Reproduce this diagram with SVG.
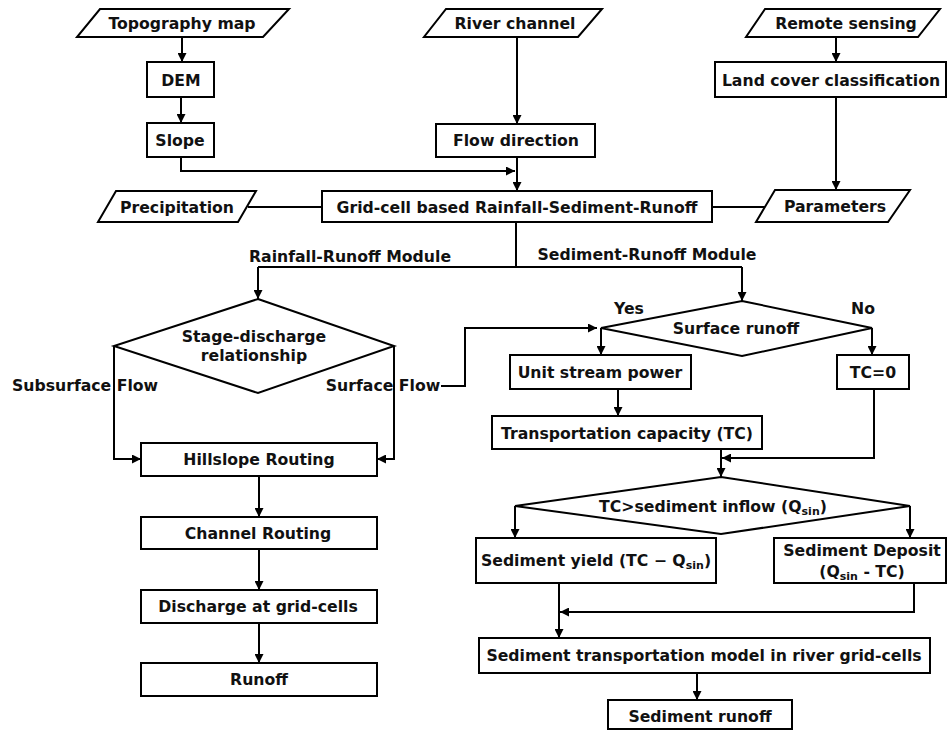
<svg xmlns="http://www.w3.org/2000/svg" width="948" height="730" viewBox="0 0 948 730">
<style>
.b{fill:#fff;stroke:#000;stroke-width:2}
.t{font-family:"DejaVu Sans","Liberation Sans",Arial,sans-serif;font-weight:bold;font-size:15.7px;text-anchor:middle;fill:#111}
.s{font-size:11px}
.c{fill:none;stroke:#000;stroke-width:2}
.a{marker-end:url(#ah)}
</style>
<defs>
<marker id="ah" viewBox="0 0 10 10" refX="10" refY="5" markerWidth="9" markerHeight="9" markerUnits="userSpaceOnUse" orient="auto">
<path d="M0,0 L10,5 L0,10 z" fill="#000"/>
</marker>
</defs>
<rect width="948" height="730" fill="#fff"/>

<g id="connectors">
<path class="c a" d="M182,37 V62"/>
<path class="c a" d="M181,97 V123"/>
<path class="c a" d="M181,157 V171 H515"/>
<path class="c a" d="M517,37 V124"/>
<path class="c a" d="M517,157 V191"/>
<path class="c a" d="M836,37 V62"/>
<path class="c a" d="M836,97 V190"/>
<path class="c" d="M248,207 H322"/>
<path class="c" d="M712,207 H765"/>
<path class="c" d="M516,222 V267 M258,267 H742"/>
<path class="c a" d="M258,267 V299"/>
<path class="c a" d="M742,267 V301"/>
<path class="c a" d="M114,346 V459 H141"/>
<path class="c a" d="M394,346 V459 H377"/>
<path class="c a" d="M441,386 H465 V328 H597"/>
<path class="c a" d="M259,476 V517"/>
<path class="c a" d="M259,549 V590"/>
<path class="c a" d="M259,623 V663"/>
<path class="c a" d="M601,328 V355"/>
<path class="c a" d="M872,328 V355"/>
<path class="c a" d="M618,389 V416"/>
<path class="c a" d="M721,449 V477"/>
<path class="c a" d="M874,389 V458 H722"/>
<path class="c a" d="M515,506 V538"/>
<path class="c a" d="M910,506 V538"/>
<path class="c a" d="M559,583 V638"/>
<path class="c a" d="M914,583 V612 H560"/>
<path class="c a" d="M697,673 V700"/>
</g>

<g id="topography"><polygon class="b" points="100,9 289,9 263,37 77,37"/><text class="t" x="182" y="29">Topography map</text></g>
<g id="river"><polygon class="b" points="446,9 602,9 578,37 424,37"/><text class="t" x="515" y="29">River channel</text></g>
<g id="remote"><polygon class="b" points="765,9 940,9 918,37 746,37"/><text class="t" x="846" y="29">Remote sensing</text></g>
<g id="dem"><rect class="b" x="147" y="62" width="67" height="35"/><text class="t" x="181" y="86">DEM</text></g>
<g id="slope"><rect class="b" x="147" y="123" width="67" height="34"/><text class="t" x="180" y="146">Slope</text></g>
<g id="flowdir"><rect class="b" x="436" y="124" width="159" height="33"/><text class="t" x="516" y="146">Flow direction</text></g>
<g id="landcover"><rect class="b" x="715" y="62" width="231" height="35"/><text class="t" x="831" y="86">Land cover classification</text></g>
<g id="precip"><polygon class="b" points="116,191 256,191 238,222 98,222"/><text class="t" x="177" y="213">Precipitation</text></g>
<g id="grid"><rect class="b" x="322" y="191" width="390" height="31"/><text class="t" x="517" y="213">Grid-cell based Rainfall-Sediment-Runoff</text></g>
<g id="params"><polygon class="b" points="775,190 910,190 888,222 756,222"/><text class="t" x="835" y="212">Parameters</text></g>
<g id="labels">
<text class="t" x="350" y="262">Rainfall-Runoff Module</text>
<text class="t" x="647" y="260">Sediment-Runoff Module</text>
<text class="t" x="85" y="391">Subsurface Flow</text>
<text class="t" x="383" y="391">Surface Flow</text>
<text class="t" x="629" y="314">Yes</text>
<text class="t" x="863" y="314">No</text>
</g>
<g id="stage"><polygon class="b" points="258,299 394,346 258,393 114,346"/><text class="t" x="254" y="342">Stage-discharge</text><text class="t" x="254" y="361">relationship</text></g>
<g id="hillslope"><rect class="b" x="141" y="443" width="236" height="33"/><text class="t" x="259" y="465">Hillslope Routing</text></g>
<g id="channel"><rect class="b" x="141" y="517" width="236" height="32"/><text class="t" x="258" y="539">Channel Routing</text></g>
<g id="discharge"><rect class="b" x="141" y="590" width="236" height="33"/><text class="t" x="258" y="612">Discharge at grid-cells</text></g>
<g id="runoff"><rect class="b" x="141" y="663" width="236" height="33"/><text class="t" x="259" y="685">Runoff</text></g>
<g id="surfrunoff"><polygon class="b" points="742,301 872,328 742,356 601,328"/><text class="t" x="736" y="334">Surface runoff</text></g>
<g id="usp"><rect class="b" x="510" y="355" width="181" height="34"/><text class="t" x="600" y="378">Unit stream power</text></g>
<g id="tc0"><rect class="b" x="837" y="355" width="72" height="34"/><text class="t" x="873" y="378">TC=0</text></g>
<g id="tc"><rect class="b" x="492" y="416" width="270" height="33"/><text class="t" x="627" y="439">Transportation capacity (TC)</text></g>
<g id="tcdiamond"><polygon class="b" points="721,477 910,506 721,534 515,506"/><text class="t" x="713" y="512">TC&gt;sediment inflow (Q<tspan class="s" dy="3">sin</tspan><tspan dy="-3">)</tspan></text></g>
<g id="yield"><rect class="b" x="476" y="538" width="240" height="45"/><text class="t" x="596" y="566">Sediment yield (TC − Q<tspan class="s" dy="3">sin</tspan><tspan dy="-3">)</tspan></text></g>
<g id="deposit"><rect class="b" x="774" y="538" width="172" height="45"/><text class="t" x="862" y="556">Sediment Deposit</text><text class="t" x="862" y="577">(Q<tspan class="s" dy="3">sin</tspan><tspan dy="-3"> - TC)</tspan></text></g>
<g id="stm"><rect class="b" x="479" y="638" width="451" height="35"/><text class="t" x="704" y="661">Sediment transportation model in river grid-cells</text></g>
<g id="sedrunoff"><rect class="b" x="608" y="700" width="184" height="29"/><text class="t" x="700" y="722">Sediment runoff</text></g>
</svg>
